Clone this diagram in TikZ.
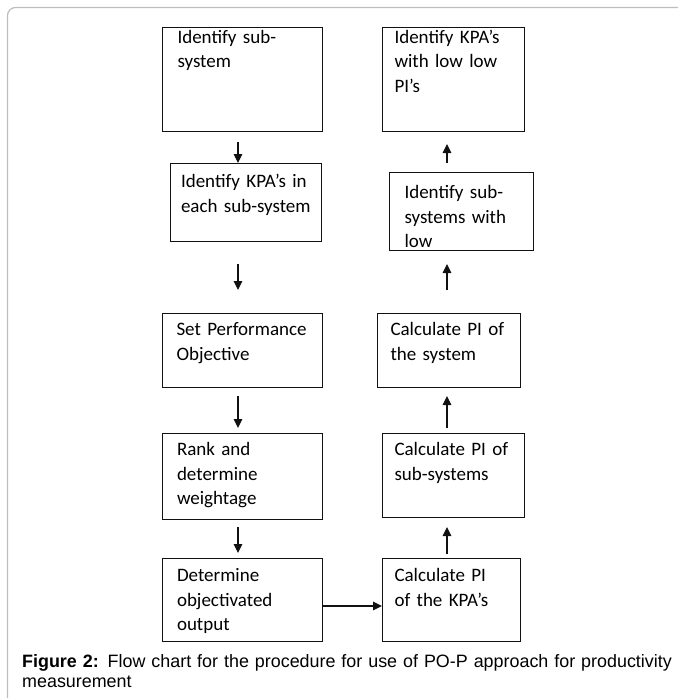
\documentclass[tikz,border=0pt]{standalone}
\usepackage{fontspec}
\setmainfont{Liberation Sans}
\newfontfamily\boxfont{Carlito}
\usepackage{xcolor}
\usepackage{tikz}
\usetikzlibrary{positioning,arrows.meta}
\definecolor{ink}{HTML}{111111}
\definecolor{frameline}{HTML}{BDBDBD}
\tikzset{
    stepbox/.style={rectangle, draw=ink, line width=1pt, anchor=north west, align=left, inner xsep=14pt, inner ysep=0pt, text height=22pt, font=\boxfont\fontsize{19pt}{24.5pt}\selectfont},
    arrow/.style={-{Triangle[length=9pt, width=8.5pt]}, line width=1.1pt, color=ink},
    caption/.style={anchor=base west, align=left, text width=655pt, inner sep=0pt, font=\fontsize{17.9pt}{20pt}\selectfont}
}
\begin{document}
\begin{tikzpicture}

\useasboundingbox (0,0) rectangle (677pt,-698pt);

% Frame
\draw[frameline, line width=1.2pt, rounded corners=8pt] (7.5pt,-710pt) -- (7.5pt,-7.5pt) -- (690pt,-7.5pt);

% Left column (downwards)
\node[stepbox, text width=130pt, inner xsep=15pt, text height=16pt, text depth=88pt] (l1) at (162pt,-27pt) {Identify sub-\\system};
\node[stepbox, text width=130pt, inner xsep=10.5pt, text height=24pt, text depth=54pt, below right=31pt and 8pt of l1.south west] (l2) {Identify KPA’s in\\each sub-system};
\node[stepbox, text width=132pt, text depth=52pt, below right=71pt and -8pt of l2.south west] (l3) {Set Performance\\Objective};
\node[stepbox, text width=131pt, inner xsep=14.5pt, text depth=64pt, below right=45pt and 0pt of l3.south west] (l4) {Rank and\\determine\\weightage};
\node[stepbox, text width=131pt, inner xsep=14.5pt, text height=23pt, text depth=60pt, below right=38pt and 0pt of l4.south west] (l5) {Determine\\objectivated\\output};

% Right column (upwards)
\node[stepbox, text width=114pt, inner xsep=12pt, text height=23pt, text depth=60pt, below right=0pt and 59pt of l5.north east] (r5) {Calculate PI\\of the KPA’s};
\node[stepbox, text width=118pt, inner xsep=12pt, text depth=62pt, above right=40pt and 0pt of r5.north west] (r4) {Calculate PI of\\sub-systems};
\node[stepbox, text width=117pt, inner xsep=13pt, text depth=52pt, above right=45pt and -5pt of r4.north west] (r3) {Calculate PI of\\the system};
\node[stepbox, text width=114pt, inner xsep=15pt, text height=26pt, text depth=52pt, above right=62pt and 12pt of r3.north west] (r2) {Identify sub-\\systems with\\low};
\node[stepbox, text width=118pt, inner xsep=12pt, text height=16pt, text depth=88pt, above right=40pt and -7pt of r2.north west] (r1) {Identify KPA’s\\with low low\\PI’s};

% Arrow lines
\coordinate (lx) at (238pt,0);
\coordinate (rx) at (447pt,0);
\draw[arrow, shorten <=10pt] (l1.south -| lx) -- (l2.north -| lx);
\draw[arrow, shorten <=22pt, shorten >=23pt] (l2.south -| lx) -- (l3.north -| lx);
\draw[arrow, shorten <=8pt, shorten >=5pt] (l3.south -| lx) -- (l4.north -| lx);
\draw[arrow, shorten <=7pt, shorten >=5pt] (l4.south -| lx) -- (l5.north -| lx);
\draw[arrow] ([yshift=-6pt]l5.east) -- ([yshift=-6pt]r5.west);
\draw[arrow, shorten <=4pt, shorten >=9pt] (r5.north -| rx) -- (r4.south -| rx);
\draw[arrow, shorten <=5pt, shorten >=8pt] (r4.north -| rx) -- (r3.south -| rx);
\draw[arrow, shorten <=23pt, shorten >=13pt] (r3.north -| rx) -- (r2.south -| rx);
\draw[arrow, shorten <=9pt, shorten >=12pt] (r2.north -| rx) -- (r1.south -| rx);

% Caption
\node[caption] (cap) at (22pt,-667pt) {\textbf{Figure 2:} Flow chart for the procedure for use of PO-P approach for productivity\\measurement};

\end{tikzpicture}
\end{document}
